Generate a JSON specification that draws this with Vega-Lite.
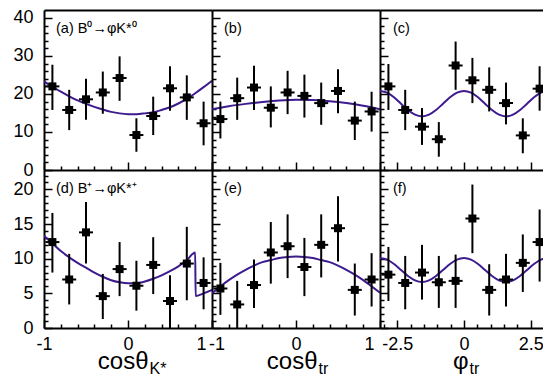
{
  "$schema": "https://vega.github.io/schema/vega-lite/v6.json",
  "padding": {"left": 12, "top": 8, "right": 0, "bottom": 0},
  "bounds": "flush",
  "spacing": 0,
  "columns": 3,
  "align": "each",
  "config": {
    "view": {"stroke": null},
    "font": "Liberation Sans",
    "axis": {"grid": false, "domainColor": "black", "domainWidth": 2, "tickColor": "black", "tickWidth": 1.5, "labelColor": "black", "titleColor": "black", "labelFont": "Liberation Sans", "labelFontSize": 18, "titleFont": "Liberation Sans", "titleFontWeight": "normal", "titleFontSize": 24, "labelFlush": false, "labelOverlap": false, "labelBound": false}
  },
  "datasets": {
    "curve_a": [{"x":-1,"y":23.3},{"x":-0.9,"y":21.9},{"x":-0.8,"y":20.6},{"x":-0.7,"y":19.4},{"x":-0.6,"y":18.3},{"x":-0.5,"y":17.4},{"x":-0.4,"y":16.6},{"x":-0.3,"y":15.9},{"x":-0.2,"y":15.3},{"x":-0.1,"y":14.9},{"x":0,"y":14.7},{"x":0.1,"y":14.7},{"x":0.2,"y":14.9},{"x":0.3,"y":15.2},{"x":0.4,"y":15.8},{"x":0.5,"y":16.5},{"x":0.6,"y":17.5},{"x":0.7,"y":18.7},{"x":0.8,"y":20.2},{"x":0.9,"y":21.8},{"x":1,"y":23.5}],
    "curve_b": [{"x":-1,"y":16.0},{"x":-0.8,"y":16.8},{"x":-0.6,"y":17.4},{"x":-0.4,"y":17.9},{"x":-0.2,"y":18.3},{"x":0,"y":18.5},{"x":0.2,"y":18.4},{"x":0.4,"y":18.1},{"x":0.6,"y":17.6},{"x":0.8,"y":16.9},{"x":1,"y":16.0}],
    "curve_c": [{"x":-3.1416,"y":20.8},{"x":-2.8798,"y":20.35},{"x":-2.618,"y":19.12},{"x":-2.3562,"y":17.45},{"x":-2.0944,"y":15.78},{"x":-1.8326,"y":14.55},{"x":-1.5708,"y":14.1},{"x":-1.309,"y":14.55},{"x":-1.0472,"y":15.78},{"x":-0.7854,"y":17.45},{"x":-0.5236,"y":19.12},{"x":-0.2618,"y":20.35},{"x":0,"y":20.8},{"x":0.2618,"y":20.35},{"x":0.5236,"y":19.12},{"x":0.7854,"y":17.45},{"x":1.0472,"y":15.78},{"x":1.309,"y":14.55},{"x":1.5708,"y":14.1},{"x":1.8326,"y":14.55},{"x":2.0944,"y":15.78},{"x":2.3562,"y":17.45},{"x":2.618,"y":19.12},{"x":2.8798,"y":20.35},{"x":3.1416,"y":20.8}],
    "curve_d": [{"x":-1,"y":13.3},{"x":-0.9,"y":12.2},{"x":-0.8,"y":11.1},{"x":-0.7,"y":10.2},{"x":-0.6,"y":9.4},{"x":-0.5,"y":8.7},{"x":-0.4,"y":8.0},{"x":-0.3,"y":7.4},{"x":-0.2,"y":6.9},{"x":-0.1,"y":6.6},{"x":0,"y":6.45},{"x":0.1,"y":6.45},{"x":0.2,"y":6.7},{"x":0.3,"y":7.1},{"x":0.4,"y":7.6},{"x":0.5,"y":8.2},{"x":0.6,"y":8.9},{"x":0.7,"y":9.8},{"x":0.8,"y":10.9},{"x":0.805,"y":4.6},{"x":0.9,"y":5.0},{"x":1,"y":5.5}],
    "curve_e": [{"x":-1,"y":5.0},{"x":-0.9,"y":6.0},{"x":-0.8,"y":6.9},{"x":-0.7,"y":7.7},{"x":-0.6,"y":8.4},{"x":-0.5,"y":9.0},{"x":-0.4,"y":9.5},{"x":-0.3,"y":9.8},{"x":-0.2,"y":10.1},{"x":-0.1,"y":10.25},{"x":0,"y":10.3},{"x":0.1,"y":10.25},{"x":0.2,"y":10.1},{"x":0.3,"y":9.8},{"x":0.4,"y":9.5},{"x":0.5,"y":9.0},{"x":0.6,"y":8.4},{"x":0.7,"y":7.7},{"x":0.8,"y":6.9},{"x":0.9,"y":6.0},{"x":1,"y":5.1}],
    "curve_f": [{"x":-3.1416,"y":10.1},{"x":-2.8798,"y":9.87},{"x":-2.618,"y":9.24},{"x":-2.3562,"y":8.375},{"x":-2.0944,"y":7.51},{"x":-1.8326,"y":6.88},{"x":-1.5708,"y":6.65},{"x":-1.309,"y":6.88},{"x":-1.0472,"y":7.51},{"x":-0.7854,"y":8.375},{"x":-0.5236,"y":9.24},{"x":-0.2618,"y":9.87},{"x":0,"y":10.1},{"x":0.2618,"y":9.87},{"x":0.5236,"y":9.24},{"x":0.7854,"y":8.375},{"x":1.0472,"y":7.51},{"x":1.309,"y":6.88},{"x":1.5708,"y":6.65},{"x":1.8326,"y":6.88},{"x":2.0944,"y":7.51},{"x":2.3562,"y":8.375},{"x":2.618,"y":9.24},{"x":2.8798,"y":9.87},{"x":3.1416,"y":10.1}],
    "pts_a": [{"x":-0.9,"y":22.0,"lo":15.8,"hi":27.7},{"x":-0.7,"y":15.8,"lo":10.5,"hi":21.1},{"x":-0.5,"y":18.6,"lo":13.2,"hi":24.0},{"x":-0.3,"y":20.4,"lo":14.8,"hi":25.9},{"x":-0.1,"y":24.2,"lo":18.2,"hi":29.9},{"x":0.1,"y":9.2,"lo":4.8,"hi":13.6},{"x":0.3,"y":14.2,"lo":9.2,"hi":19.3},{"x":0.5,"y":21.5,"lo":15.6,"hi":27.3},{"x":0.7,"y":19.1,"lo":13.2,"hi":24.9},{"x":0.9,"y":12.3,"lo":6.5,"hi":18.0}],
    "pts_b": [{"x":-0.9,"y":13.4,"lo":8.3,"hi":18.0},{"x":-0.7,"y":18.9,"lo":13.2,"hi":24.3},{"x":-0.5,"y":21.7,"lo":15.8,"hi":27.4},{"x":-0.3,"y":16.4,"lo":11.2,"hi":22.0},{"x":-0.1,"y":20.4,"lo":14.7,"hi":26.1},{"x":0.1,"y":19.5,"lo":13.8,"hi":25.1},{"x":0.3,"y":17.6,"lo":11.9,"hi":23.0},{"x":0.5,"y":20.8,"lo":14.9,"hi":26.5},{"x":0.7,"y":13.0,"lo":7.9,"hi":18.0},{"x":0.9,"y":15.4,"lo":10.1,"hi":20.6}],
    "pts_c": [{"x":-2.827,"y":22.0,"lo":15.8,"hi":27.9},{"x":-2.199,"y":15.8,"lo":10.5,"hi":21.1},{"x":-1.571,"y":11.4,"lo":6.6,"hi":16.3},{"x":-0.942,"y":8.1,"lo":3.5,"hi":12.6},{"x":-0.314,"y":27.5,"lo":21.1,"hi":33.8},{"x":0.314,"y":23.6,"lo":17.6,"hi":29.5},{"x":0.942,"y":21.1,"lo":15.4,"hi":27.0},{"x":1.571,"y":17.6,"lo":12.0,"hi":23.0},{"x":2.199,"y":9.1,"lo":4.4,"hi":13.6},{"x":2.827,"y":21.4,"lo":15.6,"hi":27.3}],
    "pts_d": [{"x":-0.9,"y":12.4,"lo":8.0,"hi":16.6},{"x":-0.7,"y":7.0,"lo":3.4,"hi":10.7},{"x":-0.5,"y":13.8,"lo":9.3,"hi":18.2},{"x":-0.3,"y":4.6,"lo":1.3,"hi":7.8},{"x":-0.1,"y":8.5,"lo":4.6,"hi":12.4},{"x":0.1,"y":6.1,"lo":2.5,"hi":9.7},{"x":0.3,"y":9.1,"lo":4.9,"hi":13.1},{"x":0.5,"y":3.9,"lo":0,"hi":7.6},{"x":0.7,"y":9.3,"lo":4.0,"hi":14.6},{"x":0.9,"y":6.5,"lo":2.7,"hi":10.2}],
    "pts_e": [{"x":-0.9,"y":5.7,"lo":1.9,"hi":9.4},{"x":-0.7,"y":3.4,"lo":0,"hi":6.8},{"x":-0.5,"y":6.2,"lo":2.9,"hi":9.9},{"x":-0.3,"y":10.9,"lo":6.4,"hi":15.3},{"x":-0.1,"y":11.8,"lo":7.2,"hi":16.4},{"x":0.1,"y":8.8,"lo":4.6,"hi":13.0},{"x":0.3,"y":12.0,"lo":7.3,"hi":16.4},{"x":0.5,"y":14.4,"lo":9.6,"hi":19.0},{"x":0.7,"y":5.5,"lo":1.8,"hi":9.3},{"x":0.9,"y":7.0,"lo":3.1,"hi":10.8}],
    "pts_f": [{"x":-2.827,"y":7.7,"lo":3.9,"hi":11.7},{"x":-2.199,"y":6.5,"lo":2.7,"hi":10.4},{"x":-1.571,"y":8.0,"lo":4.1,"hi":12.0},{"x":-0.942,"y":6.6,"lo":2.9,"hi":10.4},{"x":-0.314,"y":6.8,"lo":2.9,"hi":10.6},{"x":0.314,"y":15.8,"lo":10.8,"hi":20.7},{"x":0.942,"y":5.5,"lo":1.8,"hi":9.2},{"x":1.571,"y":7.0,"lo":3.1,"hi":10.7},{"x":2.199,"y":9.4,"lo":5.2,"hi":13.5},{"x":2.827,"y":12.4,"lo":6.7,"hi":17.1}]
  },
  "concat": [
        {
          "width": 168, "height": 160,
          "resolve": {"axis": {"x": "independent", "y": "independent"}},
          "layer": [
            {"data": {"name": "curve_a"}, "mark": {"type": "line", "color": "#3d1a8e", "strokeWidth": 2, "interpolate": "monotone", "clip": true},
             "encoding": {
               "x": {"field": "x", "type": "quantitative", "scale": {"domain": [-1, 1], "nice": false, "zero": false},
                     "axis": {"orient": "bottom", "values": [-1,-0.8,-0.6,-0.4,-0.2,0,0.2,0.4,0.6,0.8,1], "labels": false, "title": null, "tickSize": {"condition": {"test": "abs(datum.value) == 1 || datum.value == 0", "value": -8}, "value": -4}}},
               "y": {"field": "y", "type": "quantitative", "scale": {"domain": [0, 42.1], "nice": false, "zero": false},
                     "axis": {"orient": "left", "values": [0,2,4,6,8,10,12,14,16,18,20,22,24,26,28,30,32,34,36,38,40], "title": null, "labelPadding": 19, "labelExpr": "datum.value % 10 == 0 ? toString(datum.value) : ''", "tickSize": {"condition": {"test": "datum.value % 10 == 0", "value": -8}, "value": -4}}}
             }},
            {"data": {"name": "pts_a"}, "mark": {"type": "rule", "color": "black", "strokeWidth": 2, "clip": true},
             "encoding": {
               "x": {"field": "x", "type": "quantitative", "scale": {"domain": [-1, 1], "nice": false, "zero": false}, "axis": null},
               "y": {"field": "lo", "type": "quantitative", "scale": {"domain": [0, 42.1], "nice": false, "zero": false}, "axis": null},
               "y2": {"field": "hi"}
             }},
            {"data": {"name": "pts_a"}, "mark": {"type": "tick", "orient": "horizontal", "size": 14, "thickness": 2, "color": "black", "opacity": 1, "clip": true},
             "encoding": {
               "x": {"field": "x", "type": "quantitative", "scale": {"domain": [-1, 1], "nice": false, "zero": false}, "axis": null},
               "y": {"field": "y", "type": "quantitative", "scale": {"domain": [0, 42.1], "nice": false, "zero": false}, "axis": null}
             }},
            {"data": {"name": "pts_a"}, "mark": {"type": "point", "shape": "square", "filled": true, "size": 64, "color": "black", "opacity": 1, "clip": true},
             "encoding": {
               "x": {"field": "x", "type": "quantitative", "scale": {"domain": [-1, 1], "nice": false, "zero": false}, "axis": {"orient": "top", "domain": true, "ticks": false, "labels": false, "title": null}},
               "y": {"field": "y", "type": "quantitative", "scale": {"domain": [0, 42.1], "nice": false, "zero": false}, "axis": null}
             }},
            {"data": {"values": [{"t": "(a) B\u2070\u2192\u03c6K*\u2070"}]}, "mark": {"type": "text", "align": "left", "baseline": "middle", "fontSize": 14.5, "font": "Liberation Sans", "color": "black"},
             "encoding": {
               "text": {"field": "t"},
               "x": {"datum": -0.857, "type": "quantitative", "scale": {"domain": [-1, 1], "nice": false, "zero": false}, "axis": null},
               "y": {"datum": 37.1, "type": "quantitative", "scale": {"domain": [0, 42.1], "nice": false, "zero": false}, "axis": null}
             }}
          ]
        },
        {
          "width": 168, "height": 160,
          "resolve": {"axis": {"x": "independent", "y": "independent"}},
          "layer": [
            {"data": {"name": "curve_b"}, "mark": {"type": "line", "color": "#3d1a8e", "strokeWidth": 2, "interpolate": "monotone", "clip": true},
             "encoding": {
               "x": {"field": "x", "type": "quantitative", "scale": {"domain": [-1, 1], "nice": false, "zero": false},
                     "axis": {"orient": "bottom", "values": [-1,-0.8,-0.6,-0.4,-0.2,0,0.2,0.4,0.6,0.8,1], "labels": false, "title": null, "tickSize": {"condition": {"test": "abs(datum.value) == 1 || datum.value == 0", "value": -8}, "value": -4}}},
               "y": {"field": "y", "type": "quantitative", "scale": {"domain": [0, 42.1], "nice": false, "zero": false},
                     "axis": {"orient": "left", "values": [0,2,4,6,8,10,12,14,16,18,20,22,24,26,28,30,32,34,36,38,40], "title": null, "labels": false, "tickSize": {"condition": {"test": "datum.value % 10 == 0", "value": -8}, "value": -4}}}
             }},
            {"data": {"name": "pts_b"}, "mark": {"type": "rule", "color": "black", "strokeWidth": 2, "clip": true},
             "encoding": {
               "x": {"field": "x", "type": "quantitative", "scale": {"domain": [-1, 1], "nice": false, "zero": false}, "axis": null},
               "y": {"field": "lo", "type": "quantitative", "scale": {"domain": [0, 42.1], "nice": false, "zero": false}, "axis": null},
               "y2": {"field": "hi"}
             }},
            {"data": {"name": "pts_b"}, "mark": {"type": "tick", "orient": "horizontal", "size": 14, "thickness": 2, "color": "black", "opacity": 1, "clip": true},
             "encoding": {
               "x": {"field": "x", "type": "quantitative", "scale": {"domain": [-1, 1], "nice": false, "zero": false}, "axis": null},
               "y": {"field": "y", "type": "quantitative", "scale": {"domain": [0, 42.1], "nice": false, "zero": false}, "axis": null}
             }},
            {"data": {"name": "pts_b"}, "mark": {"type": "point", "shape": "square", "filled": true, "size": 64, "color": "black", "opacity": 1, "clip": true},
             "encoding": {
               "x": {"field": "x", "type": "quantitative", "scale": {"domain": [-1, 1], "nice": false, "zero": false}, "axis": {"orient": "top", "domain": true, "ticks": false, "labels": false, "title": null}},
               "y": {"field": "y", "type": "quantitative", "scale": {"domain": [0, 42.1], "nice": false, "zero": false}, "axis": null}
             }},
            {"data": {"values": [{"t": "(b)"}]}, "mark": {"type": "text", "align": "left", "baseline": "middle", "fontSize": 14.5, "font": "Liberation Sans", "color": "black"},
             "encoding": {
               "text": {"field": "t"},
               "x": {"datum": -0.857, "type": "quantitative", "scale": {"domain": [-1, 1], "nice": false, "zero": false}, "axis": null},
               "y": {"datum": 37.1, "type": "quantitative", "scale": {"domain": [0, 42.1], "nice": false, "zero": false}, "axis": null}
             }}
          ]
        },
        {
          "width": 163, "height": 160,
          "resolve": {"axis": {"x": "independent", "y": "independent"}},
          "layer": [
            {"data": {"name": "curve_c"}, "mark": {"type": "line", "color": "#3d1a8e", "strokeWidth": 2, "interpolate": "monotone", "clip": true},
             "encoding": {
               "x": {"field": "x", "type": "quantitative", "scale": {"domain": [-3.1416, 2.954], "nice": false, "zero": false},
                     "axis": {"orient": "bottom", "values": [-3,-2.5,-2,-1.5,-1,-0.5,0,0.5,1,1.5,2,2.5], "labels": false, "title": null, "tickSize": {"condition": {"test": "abs(datum.value) == 2.5 || datum.value == 0", "value": -8}, "value": -4}}},
               "y": {"field": "y", "type": "quantitative", "scale": {"domain": [0, 42.1], "nice": false, "zero": false},
                     "axis": {"orient": "left", "values": [0,2,4,6,8,10,12,14,16,18,20,22,24,26,28,30,32,34,36,38,40], "title": null, "labels": false, "tickSize": {"condition": {"test": "datum.value % 10 == 0", "value": -8}, "value": -4}}}
             }},
            {"data": {"name": "pts_c"}, "mark": {"type": "rule", "color": "black", "strokeWidth": 2, "clip": true},
             "encoding": {
               "x": {"field": "x", "type": "quantitative", "scale": {"domain": [-3.1416, 2.954], "nice": false, "zero": false}, "axis": null},
               "y": {"field": "lo", "type": "quantitative", "scale": {"domain": [0, 42.1], "nice": false, "zero": false}, "axis": null},
               "y2": {"field": "hi"}
             }},
            {"data": {"name": "pts_c"}, "mark": {"type": "tick", "orient": "horizontal", "size": 14, "thickness": 2, "color": "black", "opacity": 1, "clip": true},
             "encoding": {
               "x": {"field": "x", "type": "quantitative", "scale": {"domain": [-3.1416, 2.954], "nice": false, "zero": false}, "axis": null},
               "y": {"field": "y", "type": "quantitative", "scale": {"domain": [0, 42.1], "nice": false, "zero": false}, "axis": null}
             }},
            {"data": {"name": "pts_c"}, "mark": {"type": "point", "shape": "square", "filled": true, "size": 64, "color": "black", "opacity": 1, "clip": true},
             "encoding": {
               "x": {"field": "x", "type": "quantitative", "scale": {"domain": [-3.1416, 2.954], "nice": false, "zero": false}, "axis": {"orient": "top", "domain": true, "ticks": false, "labels": false, "title": null}},
               "y": {"field": "y", "type": "quantitative", "scale": {"domain": [0, 42.1], "nice": false, "zero": false}, "axis": null}
             }},
            {"data": {"values": [{"t": "(c)"}]}, "mark": {"type": "text", "align": "left", "baseline": "middle", "fontSize": 14.5, "font": "Liberation Sans", "color": "black"},
             "encoding": {
               "text": {"field": "t"},
               "x": {"datum": -2.656, "type": "quantitative", "scale": {"domain": [-3.1416, 2.954], "nice": false, "zero": false}, "axis": null},
               "y": {"datum": 37.1, "type": "quantitative", "scale": {"domain": [0, 42.1], "nice": false, "zero": false}, "axis": null}
             }}
          ]
        },
        {
          "width": 168, "height": 158,
          "resolve": {"axis": {"x": "independent", "y": "independent"}},
          "layer": [
            {"data": {"name": "curve_d"}, "mark": {"type": "line", "color": "#3d1a8e", "strokeWidth": 2, "interpolate": "monotone", "clip": true},
             "encoding": {
               "x": {"field": "x", "type": "quantitative", "scale": {"domain": [-1, 1], "nice": false, "zero": false},
                     "axis": {"orient": "bottom", "values": [-1,-0.8,-0.6,-0.4,-0.2,0,0.2,0.4,0.6,0.8,1], "tickSize": {"condition": {"test": "abs(datum.value) == 1 || datum.value == 0", "value": -8}, "value": -4},
                              "labelExpr": "abs(datum.value) == 1 || datum.value == 0 ? toString(datum.value) : ''", "labelPadding": 15,
                              "labelAlign": {"condition": {"test": "datum.value == 1", "value": "right"}, "value": "center"},
                              "labelOffset": {"condition": {"test": "datum.value == 1", "value": -6}, "value": 0},
                              "title": "cos\u03b8", "titleAlign": "right", "titleX": 104, "titleY": 40, "titleBaseline": "alphabetic"}},
               "y": {"field": "y", "type": "quantitative", "scale": {"domain": [0, 22.8], "nice": false, "zero": false},
                     "axis": {"orient": "left", "values": [0,1,2,3,4,5,6,7,8,9,10,11,12,13,14,15,16,17,18,19,20,21,22], "title": null, "labelPadding": 19, "labelExpr": "datum.value % 5 == 0 ? toString(datum.value) : ''", "tickSize": {"condition": {"test": "datum.value % 5 == 0", "value": -8}, "value": -4}}}
             }},
            {"data": {"name": "pts_d"}, "mark": {"type": "rule", "color": "black", "strokeWidth": 2, "clip": true},
             "encoding": {
               "x": {"field": "x", "type": "quantitative", "scale": {"domain": [-1, 1], "nice": false, "zero": false},
                     "axis": {"orient": "bottom", "domain": false, "ticks": false, "labels": false, "title": "K*", "titleFontSize": 16, "titleAlign": "left", "titleX": 105, "titleY": 45.5, "titleBaseline": "alphabetic"}},
               "y": {"field": "lo", "type": "quantitative", "scale": {"domain": [0, 22.8], "nice": false, "zero": false}, "axis": null},
               "y2": {"field": "hi"}
             }},
            {"data": {"name": "pts_d"}, "mark": {"type": "tick", "orient": "horizontal", "size": 14, "thickness": 2, "color": "black", "opacity": 1, "clip": true},
             "encoding": {
               "x": {"field": "x", "type": "quantitative", "scale": {"domain": [-1, 1], "nice": false, "zero": false}, "axis": null},
               "y": {"field": "y", "type": "quantitative", "scale": {"domain": [0, 22.8], "nice": false, "zero": false}, "axis": null}
             }},
            {"data": {"name": "pts_d"}, "mark": {"type": "point", "shape": "square", "filled": true, "size": 64, "color": "black", "opacity": 1, "clip": true},
             "encoding": {
               "x": {"field": "x", "type": "quantitative", "scale": {"domain": [-1, 1], "nice": false, "zero": false}, "axis": null},
               "y": {"field": "y", "type": "quantitative", "scale": {"domain": [0, 22.8], "nice": false, "zero": false}, "axis": null}
             }},
            {"data": {"values": [{"t": "(d) B\u207a\u2192\u03c6K*\u207a"}]}, "mark": {"type": "text", "align": "left", "baseline": "middle", "fontSize": 14.5, "font": "Liberation Sans", "color": "black"},
             "encoding": {
               "text": {"field": "t"},
               "x": {"datum": -0.857, "type": "quantitative", "scale": {"domain": [-1, 1], "nice": false, "zero": false}, "axis": null},
               "y": {"datum": 20.1, "type": "quantitative", "scale": {"domain": [0, 22.8], "nice": false, "zero": false}, "axis": null}
             }}
          ]
        },
        {
          "width": 168, "height": 158,
          "resolve": {"axis": {"x": "independent", "y": "independent"}},
          "layer": [
            {"data": {"name": "curve_e"}, "mark": {"type": "line", "color": "#3d1a8e", "strokeWidth": 2, "interpolate": "monotone", "clip": true},
             "encoding": {
               "x": {"field": "x", "type": "quantitative", "scale": {"domain": [-1, 1], "nice": false, "zero": false},
                     "axis": {"orient": "bottom", "values": [-1,-0.8,-0.6,-0.4,-0.2,0,0.2,0.4,0.6,0.8,1], "tickSize": {"condition": {"test": "abs(datum.value) == 1 || datum.value == 0", "value": -8}, "value": -4},
                              "labelExpr": "abs(datum.value) == 1 || datum.value == 0 ? toString(datum.value) : ''", "labelPadding": 15,
                              "labelAlign": {"condition": {"test": "datum.value == 1", "value": "right"}, "value": "center"},
                              "labelOffset": {"condition": [{"test": "datum.value == 1", "value": -6}, {"test": "datum.value == -1", "value": 4.5}], "value": 0},
                              "title": "cos\u03b8", "titleAlign": "right", "titleX": 105, "titleY": 40, "titleBaseline": "alphabetic"}},
               "y": {"field": "y", "type": "quantitative", "scale": {"domain": [0, 22.8], "nice": false, "zero": false},
                     "axis": {"orient": "left", "values": [0,1,2,3,4,5,6,7,8,9,10,11,12,13,14,15,16,17,18,19,20,21,22], "title": null, "labels": false, "tickSize": {"condition": {"test": "datum.value % 5 == 0", "value": -8}, "value": -4}}}
             }},
            {"data": {"name": "pts_e"}, "mark": {"type": "rule", "color": "black", "strokeWidth": 2, "clip": true},
             "encoding": {
               "x": {"field": "x", "type": "quantitative", "scale": {"domain": [-1, 1], "nice": false, "zero": false},
                     "axis": {"orient": "bottom", "domain": false, "ticks": false, "labels": false, "title": "tr", "titleFontSize": 16, "titleAlign": "left", "titleX": 106, "titleY": 45.5, "titleBaseline": "alphabetic"}},
               "y": {"field": "lo", "type": "quantitative", "scale": {"domain": [0, 22.8], "nice": false, "zero": false}, "axis": null},
               "y2": {"field": "hi"}
             }},
            {"data": {"name": "pts_e"}, "mark": {"type": "tick", "orient": "horizontal", "size": 14, "thickness": 2, "color": "black", "opacity": 1, "clip": true},
             "encoding": {
               "x": {"field": "x", "type": "quantitative", "scale": {"domain": [-1, 1], "nice": false, "zero": false}, "axis": null},
               "y": {"field": "y", "type": "quantitative", "scale": {"domain": [0, 22.8], "nice": false, "zero": false}, "axis": null}
             }},
            {"data": {"name": "pts_e"}, "mark": {"type": "point", "shape": "square", "filled": true, "size": 64, "color": "black", "opacity": 1, "clip": true},
             "encoding": {
               "x": {"field": "x", "type": "quantitative", "scale": {"domain": [-1, 1], "nice": false, "zero": false}, "axis": null},
               "y": {"field": "y", "type": "quantitative", "scale": {"domain": [0, 22.8], "nice": false, "zero": false}, "axis": null}
             }},
            {"data": {"values": [{"t": "(e)"}]}, "mark": {"type": "text", "align": "left", "baseline": "middle", "fontSize": 14.5, "font": "Liberation Sans", "color": "black"},
             "encoding": {
               "text": {"field": "t"},
               "x": {"datum": -0.857, "type": "quantitative", "scale": {"domain": [-1, 1], "nice": false, "zero": false}, "axis": null},
               "y": {"datum": 20.1, "type": "quantitative", "scale": {"domain": [0, 22.8], "nice": false, "zero": false}, "axis": null}
             }}
          ]
        },
        {
          "width": 163, "height": 158,
          "resolve": {"axis": {"x": "independent", "y": "independent"}},
          "layer": [
            {"data": {"name": "curve_f"}, "mark": {"type": "line", "color": "#3d1a8e", "strokeWidth": 2, "interpolate": "monotone", "clip": true},
             "encoding": {
               "x": {"field": "x", "type": "quantitative", "scale": {"domain": [-3.1416, 2.954], "nice": false, "zero": false},
                     "axis": {"orient": "bottom", "values": [-3,-2.5,-2,-1.5,-1,-0.5,0,0.5,1,1.5,2,2.5], "tickSize": {"condition": {"test": "abs(datum.value) == 2.5 || datum.value == 0", "value": -8}, "value": -4},
                              "labelExpr": "abs(datum.value) == 2.5 || datum.value == 0 ? toString(datum.value) : ''", "labelPadding": 15,
                              "title": "\u03c6", "titleAlign": "right", "titleX": 88, "titleY": 40, "titleBaseline": "alphabetic"}},
               "y": {"field": "y", "type": "quantitative", "scale": {"domain": [0, 22.8], "nice": false, "zero": false},
                     "axis": {"orient": "left", "values": [0,1,2,3,4,5,6,7,8,9,10,11,12,13,14,15,16,17,18,19,20,21,22], "title": null, "labels": false, "tickSize": {"condition": {"test": "datum.value % 5 == 0", "value": -8}, "value": -4}}}
             }},
            {"data": {"name": "pts_f"}, "mark": {"type": "rule", "color": "black", "strokeWidth": 2, "clip": true},
             "encoding": {
               "x": {"field": "x", "type": "quantitative", "scale": {"domain": [-3.1416, 2.954], "nice": false, "zero": false},
                     "axis": {"orient": "bottom", "domain": false, "ticks": false, "labels": false, "title": "tr", "titleFontSize": 16, "titleAlign": "left", "titleX": 89, "titleY": 45.5, "titleBaseline": "alphabetic"}},
               "y": {"field": "lo", "type": "quantitative", "scale": {"domain": [0, 22.8], "nice": false, "zero": false}, "axis": null},
               "y2": {"field": "hi"}
             }},
            {"data": {"name": "pts_f"}, "mark": {"type": "tick", "orient": "horizontal", "size": 14, "thickness": 2, "color": "black", "opacity": 1, "clip": true},
             "encoding": {
               "x": {"field": "x", "type": "quantitative", "scale": {"domain": [-3.1416, 2.954], "nice": false, "zero": false}, "axis": null},
               "y": {"field": "y", "type": "quantitative", "scale": {"domain": [0, 22.8], "nice": false, "zero": false}, "axis": null}
             }},
            {"data": {"name": "pts_f"}, "mark": {"type": "point", "shape": "square", "filled": true, "size": 64, "color": "black", "opacity": 1, "clip": true},
             "encoding": {
               "x": {"field": "x", "type": "quantitative", "scale": {"domain": [-3.1416, 2.954], "nice": false, "zero": false}, "axis": null},
               "y": {"field": "y", "type": "quantitative", "scale": {"domain": [0, 22.8], "nice": false, "zero": false}, "axis": null}
             }},
            {"data": {"values": [{"t": "(f)"}]}, "mark": {"type": "text", "align": "left", "baseline": "middle", "fontSize": 14.5, "font": "Liberation Sans", "color": "black"},
             "encoding": {
               "text": {"field": "t"},
               "x": {"datum": -2.656, "type": "quantitative", "scale": {"domain": [-3.1416, 2.954], "nice": false, "zero": false}, "axis": null},
               "y": {"datum": 20.1, "type": "quantitative", "scale": {"domain": [0, 22.8], "nice": false, "zero": false}, "axis": null}
             }}
          ]
        }
  ]
}
